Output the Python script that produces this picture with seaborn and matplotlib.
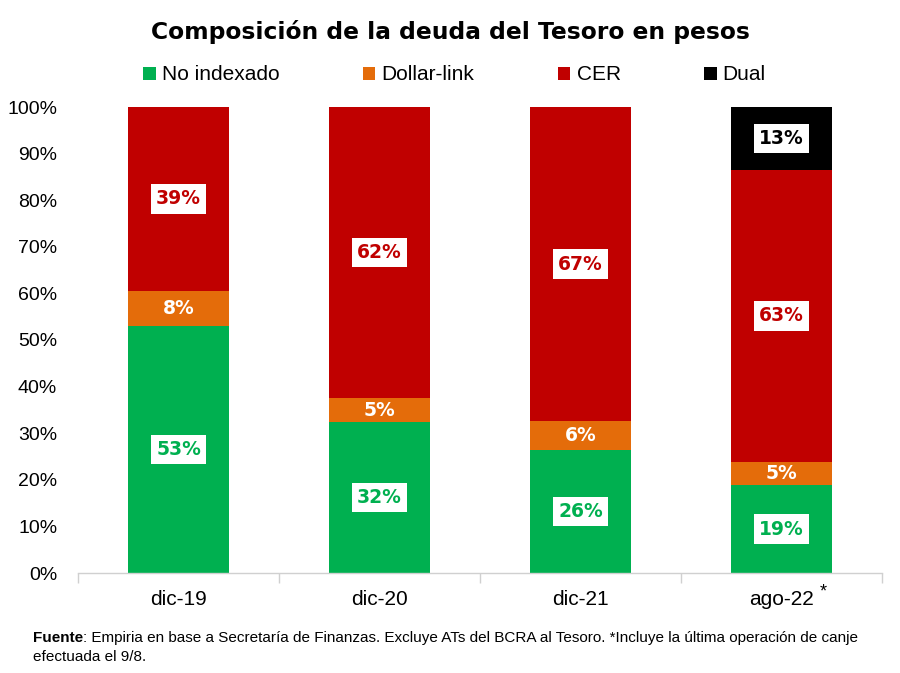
import numpy as np
import pandas as pd
import matplotlib
matplotlib.use("Agg")
import matplotlib.pyplot as plt
from matplotlib.patches import Patch
from matplotlib import font_manager
import seaborn as sns

categories = ["dic-19", "dic-20", "dic-21", "ago-22"]
series = ["No indexado", "Dollar-link", "CER", "Dual"]
no_indexado = [52.9, 32.3, 26.3, 18.8]
dollar_link = [7.7, 5.1, 6.2, 4.9]
cer = [39.4, 62.4, 67.4, 62.8]
dual = [0.0, 0.0, 0.0, 13.4]
colors = ["#00B050", "#E46C0A", "#C00000", "#000000"]
label_colors = ["#00B050", "white", "#C00000", "black"]
label_box = [True, False, True, True]
yticks = [0, 10, 20, 30, 40, 50, 60, 70, 80, 90, 100]

sns.set_theme(style="white")
names = {f.name for f in font_manager.fontManager.ttflist}
narrow = "Liberation Sans Narrow" if "Liberation Sans Narrow" in names else "Liberation Sans"
plt.rcParams["font.family"] = ["DejaVu Sans"]
plt.rcParams["text.color"] = "black"

vals = np.array([no_indexado, dollar_link, cer, dual])
totals = vals.sum(axis=0)
shares = vals / totals * 100
cum = np.cumsum(shares, axis=0)

fig = plt.figure(figsize=(9, 6.73), dpi=100)
ax = fig.add_axes([78 / 900, 1 - 573 / 673, 804 / 900, 466 / 673])

# draw from top (cumulative) down so lower segments overdraw
for i in range(len(series) - 1, -1, -1):
    df = pd.DataFrame({"cat": categories, "val": cum[i]})
    sns.barplot(data=df, x="cat", y="val", order=categories, color=colors[i],
                saturation=1, width=0.5, ax=ax, linewidth=0, errorbar=None)

# labels
for j, cat in enumerate(categories):
    base = 0.0
    for i in range(len(series)):
        h = shares[i, j]
        if vals[i, j] > 0:
            kw = {}
            if label_box[i]:
                kw["bbox"] = dict(boxstyle="square,pad=0.28", fc="white", ec="none")
            ax.text(j, base + h / 2, f"{vals[i, j]:.0f}%", ha="center", va="center",
                    fontsize=13.5, fontweight="bold", color=label_colors[i], **kw)
        base += h

ax.set_ylim(0, 100)
ax.set_xlim(-0.5, len(categories) - 0.5)
ax.set_yticks(yticks)
ax.set_yticklabels([f"{t}%" for t in yticks], fontsize=14, family=narrow, color="black")
ax.set_xticks(range(len(categories)))
ax.set_xticklabels(categories, fontsize=15, family=narrow, color="black")
ax.set_xticks(np.arange(-0.5, len(categories), 1.0), minor=True)
ax.tick_params(axis="x", which="major", length=0, pad=12)
ax.tick_params(axis="x", which="minor", length=7, color="#D0D0D0", width=1, direction="out", bottom=True)
ax.tick_params(axis="y", length=0, pad=15)
ax.set_xlabel("")
ax.set_ylabel("")
for s in ["top", "right", "left"]:
    ax.spines[s].set_visible(False)
ax.spines["bottom"].set_color("#D0D0D0")
ax.spines["bottom"].set_linewidth(1)
ax.grid(False)

# asterisk next to last category label
ax.annotate("*", xy=(3, 0), xycoords=("data", "axes fraction"), xytext=(30, -14),
            textcoords="offset points", fontsize=13, family=narrow, ha="center", va="center",
            color="black")

fig.text(0.5, 1 - 32 / 673, "Composición de la deuda del Tesoro en pesos",
         ha="center", va="center", fontsize=16.8, fontweight="bold", color="black")

handles = [Patch(facecolor=c, edgecolor="none") for c in colors]
fig.legend(handles, series, loc="center", bbox_to_anchor=(0.505, 1 - 75 / 673), ncol=4,
           frameon=False, prop={"family": narrow, "size": 15}, handlelength=0.6,
           handleheight=0.6, handletextpad=0.3, columnspacing=4.0, labelcolor="black")

# footnote
t1 = fig.text(33 / 900, 1 - 638 / 673, "Fuente", ha="left", va="center",
              fontsize=11, fontweight="bold", family=narrow)
fig.canvas.draw()
bb = t1.get_window_extent()
fig.text(bb.x1 / 900, 1 - 638 / 673,
         ": Empiria en base a Secretaría de Finanzas. Excluye ATs del BCRA al Tesoro. *Incluye la última operación de canje",
         ha="left", va="center", fontsize=11, family=narrow)
fig.text(33 / 900, 1 - 657 / 673, "efectuada el 9/8.", ha="left", va="center",
         fontsize=11, family=narrow)

fig.savefig("out.png", dpi=100)
